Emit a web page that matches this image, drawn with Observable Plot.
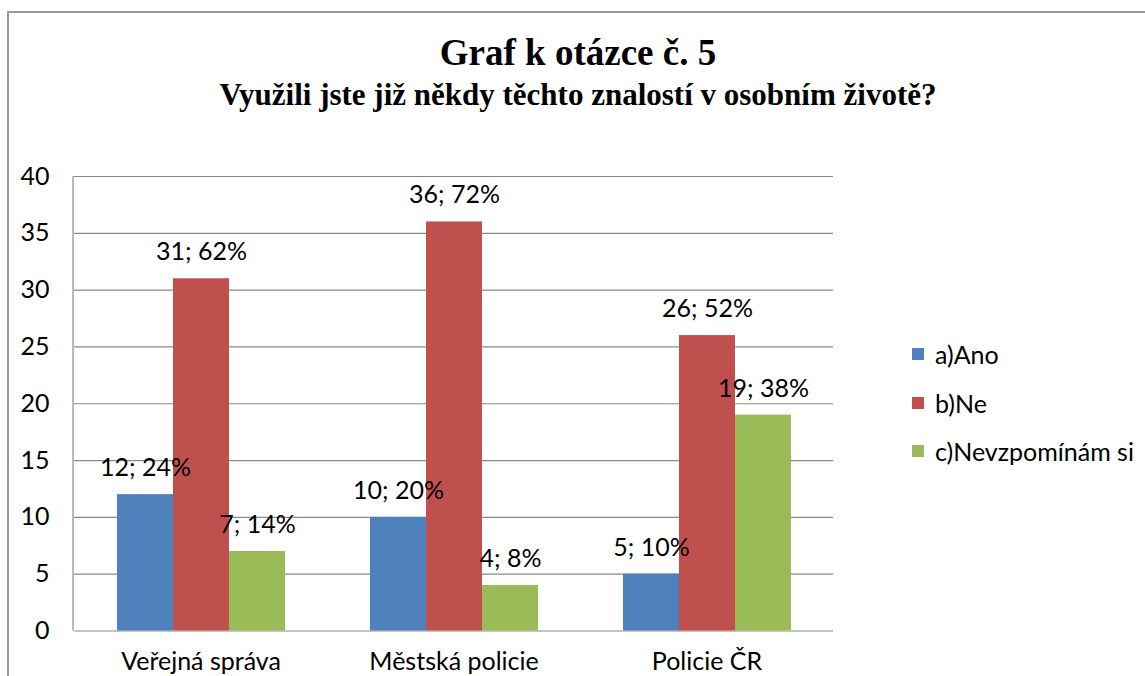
<!DOCTYPE html>
<html>
<head>
<meta charset="utf-8">
<script src="https://cdn.jsdelivr.net/npm/d3@7"></script>
<script src="https://cdn.jsdelivr.net/npm/@observablehq/plot@0.6"></script>
<style>
  html, body { margin: 0; padding: 0; background: #fff; }
  #wrap { position: relative; width: 1145px; height: 676px; overflow: hidden; font-family: Lato, sans-serif; }
  #frame { position: absolute; left: 7px; top: 11px; right: -10px; bottom: -10px; border-left: 2px solid #9a9a9a; border-top: 2px solid #9a9a9a; }
  #header { position: relative; height: 140px; }
  .t { position: absolute; left: 0; width: 1156px; text-align: center; font-family: "Liberation Serif", "Times New Roman", serif; font-weight: bold; color: #000; line-height: 1; white-space: nowrap; }
  #title { top: 34px; font-size: 37px; }
  #subtitle { top: 79px; font-size: 31px; }
  #legend { position: absolute; left: 912px; top: 330px; font-family: Lato, sans-serif; font-size: 25px; color: #000; }
  .item { display: flex; align-items: center; height: 48.5px; }
  .sw { width: 12px; height: 12px; margin-right: 11px; }
  svg { display: block; }
</style>
</head>
<body>
<div id="wrap">
  <div id="frame"></div>
  <div id="header">
    <div class="t" id="title"></div>
    <div class="t" id="subtitle"></div>
  </div>
  <div id="chart"></div>
  <div id="legend"></div>
</div>
<script>
const titleText = "Graf k otázce č. 5";
const subtitleText = "Využili jste již někdy těchto znalostí v osobním životě?";
const categories = ["Veřejná správa", "Městská policie", "Policie ČR"];
const series = ["a)Ano", "b)Ne", "c)Nevzpomínám si"];
const anoCounts = [12, 10, 5];
const neCounts = [31, 36, 26];
const nevzpominamCounts = [7, 4, 19];
const anoPct = [24, 20, 10];
const nePct = [62, 72, 52];
const nevzpominamPct = [14, 8, 38];
const colors = ["#4F81BD", "#C0504D", "#9BBB59"];
const yTicks = [0, 5, 10, 15, 20, 25, 30, 35, 40];

document.getElementById("title").textContent = titleText;
document.getElementById("subtitle").textContent = subtitleText;

const counts = [anoCounts, neCounts, nevzpominamCounts];
const pcts = [anoPct, nePct, nevzpominamPct];
const data = [];
categories.forEach((c, i) => {
  series.forEach((s, j) => {
    data.push({category: c, series: s, value: counts[j][i], pct: pcts[j][i]});
  });
});

const plot = Plot.plot({
  width: 1145,
  height: 536,
  marginLeft: 73,
  marginRight: 312,
  marginTop: 36,
  marginBottom: 45.5,
  style: {fontFamily: "Lato, sans-serif", fontSize: "25px", color: "#000", background: "transparent"},
  fx: {domain: categories, padding: 0, label: null, axis: "bottom", tickSize: 0, tickPadding: 21},
  x: {domain: series, paddingInner: 0, paddingOuter: 0.75, axis: null},
  y: {domain: [0, 40], ticks: yTicks, tickSize: 0, tickPadding: 25, label: null},
  color: {domain: series, range: colors},
  marks: [
    Plot.ruleY(yTicks, {stroke: "#8a8a8a", strokeWidth: 1.2}),
    Plot.barY(data, {fx: "category", x: "series", y: "value", fill: "series"}),
    Plot.text(data, {fx: "category", x: "series", y: "value", text: d => `${d.value}; ${d.pct}%`, dy: -26.5, lineAnchor: "middle", fill: "#000"})
  ]
});
document.getElementById("chart").appendChild(plot);

// left value axis line, derived from the library's scales
const fxs = plot.scale("fx");
const ys = plot.scale("y");
const svg = d3.select(plot.tagName.toLowerCase() === "svg" ? plot : plot.querySelector("svg"));
svg.append("line")
  .attr("x1", fxs.range[0]).attr("x2", fxs.range[0])
  .attr("y1", ys.range[0]).attr("y2", ys.range[1])
  .attr("stroke", "#8a8a8a").attr("stroke-width", 1.2);

const legend = d3.select("#legend");
series.forEach((s, j) => {
  const it = legend.append("div").attr("class", "item");
  it.append("div").attr("class", "sw").style("background", colors[j]);
  it.append("span").text(s);
});
</script>
</body>
</html>
